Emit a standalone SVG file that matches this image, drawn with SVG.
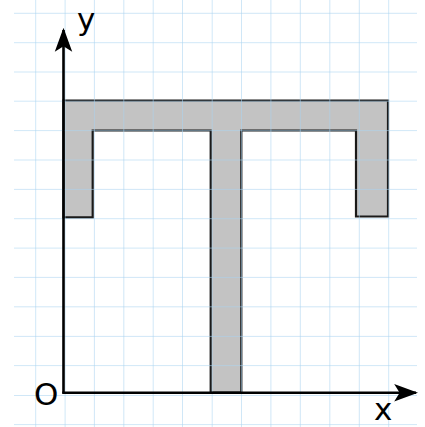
<svg xmlns="http://www.w3.org/2000/svg" width="425" height="427" viewBox="0 0 425 427">
<style>
.grid line{stroke:#a9d3f0;stroke-opacity:0.55;stroke-width:1}
.axis{stroke:#000;stroke-width:2.6;fill:none}
.shape{fill:#c3c3c3;stroke:#1a1a1a;stroke-width:2.2;stroke-linejoin:miter}
.lbl{font-family:"DejaVu Sans",sans-serif;font-size:31px;fill:#000}
</style>
<defs>
<marker id="arr" markerUnits="userSpaceOnUse" markerWidth="24" markerHeight="20" viewBox="0 0 22 16" refX="20" refY="8" orient="auto">
<path d="M0,0 L22,8 L0,16 L5,8 Z" fill="#000"/>
</marker>
</defs>
<rect width="425" height="427" fill="#fff"/>
<g id="shapeT">
<polygon class="shape" points="63.5,100.5 388,100.5 388,216.5 356,216.5 356,130.5 241.3,130.5 241.3,392.7 210.7,392.7 210.7,130.5 92.7,130.5 92.7,217.3 63.5,217.3"/>
</g>
<g class="grid">
<line x1="35.7" y1="0" x2="35.7" y2="427"/>
<line x1="65.1" y1="0" x2="65.1" y2="427"/>
<line x1="94.4" y1="0" x2="94.4" y2="427"/>
<line x1="123.8" y1="0" x2="123.8" y2="427"/>
<line x1="153.2" y1="0" x2="153.2" y2="427"/>
<line x1="182.5" y1="0" x2="182.5" y2="427"/>
<line x1="212.2" y1="0" x2="212.2" y2="427"/>
<line x1="241.5" y1="0" x2="241.5" y2="427"/>
<line x1="270.9" y1="0" x2="270.9" y2="427"/>
<line x1="300.3" y1="0" x2="300.3" y2="427"/>
<line x1="329.8" y1="0" x2="329.8" y2="427"/>
<line x1="359.3" y1="0" x2="359.3" y2="427"/>
<line x1="388.7" y1="0" x2="388.7" y2="427"/>
<line x1="14" y1="13.3" x2="417" y2="13.3"/>
<line x1="14" y1="42.7" x2="417" y2="42.7"/>
<line x1="14" y1="72" x2="417" y2="72"/>
<line x1="14" y1="101.2" x2="417" y2="101.2"/>
<line x1="14" y1="130.6" x2="417" y2="130.6"/>
<line x1="14" y1="160" x2="417" y2="160"/>
<line x1="14" y1="189.4" x2="417" y2="189.4"/>
<line x1="14" y1="218.7" x2="417" y2="218.7"/>
<line x1="14" y1="248.1" x2="417" y2="248.1"/>
<line x1="14" y1="277.4" x2="417" y2="277.4"/>
<line x1="14" y1="306.8" x2="417" y2="306.8"/>
<line x1="14" y1="336.4" x2="417" y2="336.4"/>
<line x1="14" y1="365.6" x2="417" y2="365.6"/>
<line x1="14" y1="395.5" x2="417" y2="395.5"/>
<line x1="14" y1="424.6" x2="417" y2="424.6"/>
</g>
<g id="connectors">
<line class="axis" x1="63.5" y1="393.5" x2="63.5" y2="30" marker-end="url(#arr)"/>
<line class="axis" x1="62.3" y1="392.7" x2="416" y2="392.7" marker-end="url(#arr)"/>
</g>
<g id="labels">
<text class="lbl" x="77" y="30">y</text>
<text class="lbl" x="34" y="405">O</text>
<text class="lbl" x="374" y="420" font-size="30">x</text>
</g>
</svg>
